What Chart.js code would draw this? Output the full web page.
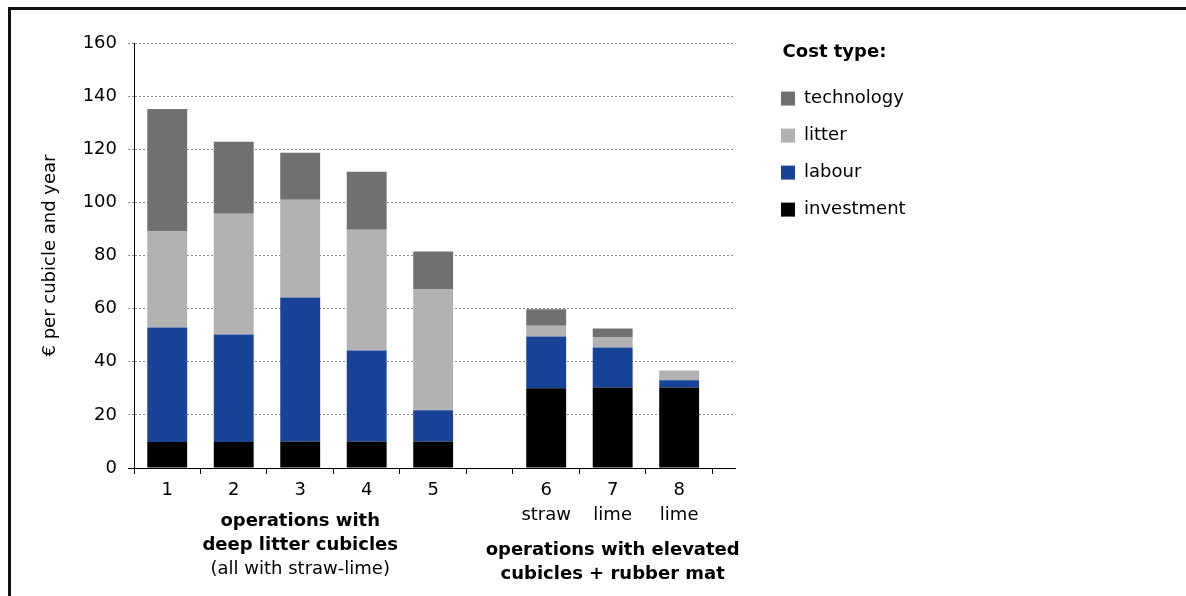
<!DOCTYPE html>
<html>
<head>
<meta charset="utf-8">
<script src="https://cdn.jsdelivr.net/npm/chart.js@4"></script>
<style>
html, body { margin: 0; padding: 0; background: #fff; }
</style>
</head>
<body>
<canvas id="graph" width="1186" height="596"></canvas>
<script>
// categories (operations) and the sub labels under some of them
var operations = ['1', '2', '3', '4', '5', '6', '7', '8'];
var subLabels = ['', '', '', '', '', 'straw', 'lime', 'lime'];
var groupSizes = [5, 3];
var groupTitles = [
    ['operations with', 'deep litter cubicles', '(all with straw-lime)'],
    ['operations with elevated', 'cubicles + rubber mat']
];
var groupBoldLines = [2, 2];

// cost per cubicle and year, in euro
var investment = [9.8, 9.8, 10.0, 10.0, 10.0, 30.0, 30.3, 30.3];
var labour = [43.1, 40.5, 54.2, 34.2, 11.7, 19.5, 15.1, 2.7];
var litter = [36.1, 45.4, 36.8, 45.5, 45.5, 4.1, 3.7, 3.7];
var technology = [46.2, 27.1, 17.7, 21.8, 14.3, 6.2, 3.4, 0];

var yTicks = [0, 20, 40, 60, 80, 100, 120, 140, 160];

// layout: extra room between the two groups, and after the last bar
var groupGap = 0.7;
var tailRoom = 0.34;
var labelPad = 3.5;
var lineH = 25;

var xPos = [];
var p = 0;
groupSizes.forEach(function (n, g) {
    for (var k = 0; k < n; k++) {
        p += 1;
        if (g > 0 && k === 0) p += groupGap;
        xPos.push(p);
    }
});
var boundaries = [];
xPos.forEach(function (v) {
    [v - 0.5, v + 0.5].forEach(function (b) {
        b = Math.round(b * 1000) / 1000;
        if (boundaries.indexOf(b) < 0) boundaries.push(b);
    });
});
var xMin = xPos[0] - 0.5;
var xMax = xPos[xPos.length - 1] + 0.5 + tailRoom;

function points(values) {
    return values.map(function (v, i) { return {x: xPos[i], y: v}; });
}

Chart.defaults.font.family = '"DejaVu Sans", Verdana, sans-serif';
Chart.defaults.font.size = 18;
Chart.defaults.color = '#000';

var framePlugin = {
    id: 'frame',
    beforeDraw: function (chart) {
        var ctx = chart.ctx;
        ctx.save();
        ctx.fillStyle = '#fff';
        ctx.fillRect(0, 0, chart.width, chart.height);
        ctx.fillStyle = '#111';
        ctx.fillRect(8, 7, chart.width, 3);
        ctx.fillRect(8, 7, 3, chart.height);
        ctx.restore();
    }
};

var groupPlugin = {
    id: 'groupTitles',
    afterDraw: function (chart) {
        var sx = chart.scales.x;
        var ctx = chart.ctx;
        var start = 0;
        ctx.save();
        ctx.textAlign = 'center';
        ctx.textBaseline = 'middle';
        ctx.fillStyle = '#000';
        groupSizes.forEach(function (n, g) {
            var cx = (sx.getPixelForValue(xPos[start]) + sx.getPixelForValue(xPos[start + n - 1])) / 2;
            var rows = subLabels.slice(start, start + n).some(Boolean) ? 2 : 1;
            var y = sx.top + labelPad + rows * (lineH + 4) + 15;
            groupTitles[g].forEach(function (line, k) {
                ctx.font = (k < groupBoldLines[g] ? 'bold ' : '') + '18px "DejaVu Sans", Verdana, sans-serif';
                ctx.fillText(line, cx, y + k * 24);
            });
            start += n;
        });
        ctx.restore();
    }
};

var ctx = document.getElementById('graph');
var graph = new Chart(ctx, {
    type: 'bar',
    data: {
        datasets: [
            {label: 'investment', data: points(investment), backgroundColor: '#000000', borderColor: '#000000'},
            {label: 'labour', data: points(labour), backgroundColor: '#184396', borderColor: '#184396'},
            {label: 'litter', data: points(litter), backgroundColor: '#b2b2b2', borderColor: '#b2b2b2'},
            {label: 'technology', data: points(technology), backgroundColor: '#707070', borderColor: '#707070'}
        ]
    },
    options: {
        responsive: false,
        animation: false,
        datasets: {
            bar: {
                xAxisID: 'x',
                yAxisID: 'y',
                borderWidth: 0,
                barPercentage: 1,
                categoryPercentage: 0.6
            }
        },
        layout: {
            padding: {top: 43, left: 35, right: 279, bottom: 68}
        },
        plugins: {
            tooltip: {enabled: false},
            legend: {
                position: 'right',
                align: 'start',
                reverse: true,
                maxWidth: 145,
                title: {
                    display: true,
                    text: 'Cost type:',
                    position: 'center',
                    color: '#000',
                    font: {size: 18, weight: 'bold'},
                    padding: {top: 0, bottom: 6}
                },
                labels: {
                    boxWidth: 14,
                    boxHeight: 14,
                    padding: 19,
                    color: '#000',
                    font: {size: 18}
                }
            }
        },
        scales: {
            x: {
                type: 'linear',
                position: 'bottom',
                weight: 1,
                stacked: true,
                offset: false,
                min: xMin,
                max: xMax,
                afterBuildTicks: function (scale) {
                    scale.ticks = xPos.map(function (v) { return {value: v}; });
                },
                afterFit: function (scale) { scale.height = 2 * lineH + 4; },
                ticks: {
                    autoSkip: false,
                    maxRotation: 0,
                    padding: labelPad,
                    font: {size: 18, lineHeight: lineH / 18},
                    callback: function (value, index) {
                        return subLabels[index] ? [operations[index], subLabels[index]] : operations[index];
                    }
                },
                grid: {display: false, drawTicks: false, offset: false},
                border: {display: false}
            },
            xb: {
                type: 'linear',
                axis: 'x',
                position: 'bottom',
                weight: 0,
                offset: false,
                min: xMin,
                max: xMax,
                afterBuildTicks: function (scale) {
                    scale.ticks = boundaries.map(function (v) { return {value: v}; });
                },
                afterFit: function (scale) { scale.height = 6; },
                ticks: {display: false, autoSkip: false},
                grid: {offset: false, drawOnChartArea: false, drawTicks: true, tickLength: 6, lineWidth: 1, color: '#000', tickColor: '#000', tickWidth: 1},
                border: {display: true, color: '#000', width: 1}
            },
            y: {
                type: 'linear',
                stacked: true,
                min: 0,
                max: 160,
                afterBuildTicks: function (scale) {
                    scale.ticks = yTicks.map(function (v) { return {value: v}; });
                },
                afterFit: function (scale) { scale.width = 99; },
                ticks: {padding: 11, font: {size: 18}},
                title: {
                    display: true,
                    text: '€ per cubicle and year',
                    font: {size: 18},
                    padding: {top: 5, bottom: 11}
                },
                grid: {
                    tickLength: 6,
                    color: function (c) { return c.tick && c.tick.value === 0 ? 'rgba(0,0,0,0)' : '#8a8a8a'; },
                    tickColor: function (c) { return c.tick && c.tick.value === 0 ? '#000' : '#8a8a8a'; },
                    tickBorderDash: function (c) { return c.tick && c.tick.value === 0 ? [] : [2, 2]; }
                },
                border: {display: true, color: '#000', width: 1, dash: [2, 2]}
            },
            yr: {
                type: 'linear',
                axis: 'y',
                position: 'right',
                ticks: {display: false},
                grid: {display: false},
                border: {display: false},
                afterFit: function (scale) { scale.width = 27; }
            }
        }
    },
    plugins: [framePlugin, groupPlugin]
});
</script>
</body>
</html>
